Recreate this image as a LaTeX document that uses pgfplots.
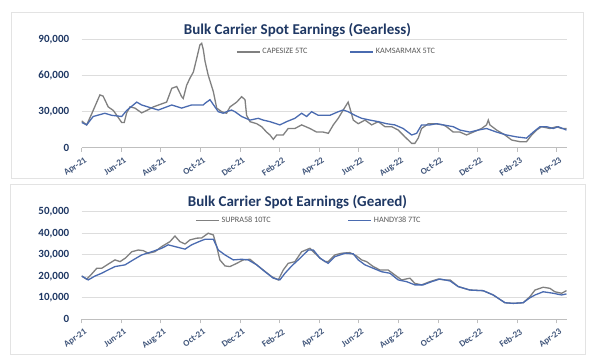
\documentclass[border=0pt]{standalone}
\usepackage{pgfplots}
\pgfplotsset{compat=1.18}
\usepackage{fontspec}
\setmainfont{Carlito}
\definecolor{navy}{HTML}{1F3864}
\definecolor{capec}{HTML}{808080}
\definecolor{kamc}{HTML}{4A6BB0}
\definecolor{gridc}{HTML}{DDDDDD}
\definecolor{axc}{HTML}{BFBFBF}
\definecolor{legt}{HTML}{595959}
\definecolor{boxc}{HTML}{E3E3E3}
\pgfplotsset{
  panel/.style={
    scale only axis, width=485pt, xmin=0, xmax=24.5,
    axis x line*=bottom, axis y line*=left,
    y axis line style={draw=none},
    x axis line style={draw=axc, line width=0.8pt},
    xtick={0,2,...,24},
    xticklabels={Apr-21,Jun-21,Aug-21,Oct-21,Dec-21,Feb-22,Apr-22,Jun-22,Aug-22,Oct-22,Dec-22,Feb-23,Apr-23},
    xtick style={draw=axc, line width=0.8pt},
    ytick style={draw=none},
    tick align=outside, major tick length=4pt,
    ymajorgrids, grid style={gridc, line width=0.8pt},
    xticklabel style={rotate=35, anchor=north east, font=\fontsize{9}{10}\selectfont\bfseries, text=navy!85, inner sep=1pt, yshift=-4pt},
    yticklabel style={font=\fontsize{11}{12}\selectfont\bfseries, text=navy, xshift=-5pt},
    scaled ticks=false,
    /pgf/number format/.cd, 1000 sep={,}, assume math mode=true,
    /pgfplots/.cd,
    legend image code/.code={\draw[##1] (0pt,0pt) -- (23pt,0pt);},
    legend style={draw=none, fill=none, anchor=west, inner sep=0pt,
      font=\fontsize{8.2}{9}\selectfont, text=legt,
      nodes={inner sep=2pt}},
    legend columns=2,
  }
}
\begin{document}
\begin{tikzpicture}
\fill[white] (0,0) rectangle (600pt,362pt);
\draw[boxc, line width=0.8pt] (11pt,184pt) rectangle (583pt,350pt);
\draw[boxc, line width=0.8pt] (10pt,8pt) rectangle (585pt,178pt);
\node[font=\fontsize{15}{17}\selectfont\bfseries, text=navy] at (297.5pt,331.3pt) {Bulk Carrier Spot Earnings (Gearless)};
\node[font=\fontsize{15}{17}\selectfont\bfseries, text=navy] at (297.5pt,159.3pt) {Bulk Carrier Spot Earnings (Geared)};

\begin{axis}[panel, at={(81.7pt,214.3pt)}, anchor=south west, height=108pt,
  ymin=0, ymax=90000, ytick={0,30000,60000,90000},
  legend style={at={(axis description cs:0.318,0.886)}, /tikz/every even column/.append style={column sep=40pt}}]
\addplot[capec, line width=1.3pt] coordinates {(0,22300)(0.25,19000)(0.5,28000)(0.92,44000)(1.08,43000)(1.34,34000)(1.6,31000)(1.77,27000)(2.02,21000)(2.15,21000)(2.27,29000)(2.44,34000)(2.69,33000)(3.03,29000)(3.28,31000)(3.62,34000)(3.95,36000)(4.29,38000)(4.55,49500)(4.8,51000)(5.05,42500)(5.13,41000)(5.3,52000)(5.47,58000)(5.64,63000)(5.81,74500)(5.97,85600)(6.06,87000)(6.14,82000)(6.23,72000)(6.39,60500)(6.65,46700)(6.82,33000)(7.07,30000)(7.32,28700)(7.49,34000)(7.83,38000)(8.08,42500)(8.25,40000)(8.33,27000)(8.5,21700)(8.84,20000)(9.09,17500)(9.34,13000)(9.51,10600)(9.68,7000)(9.85,10600)(10.18,10600)(10.43,16000)(10.77,16000)(11.11,19000)(11.53,16000)(11.87,13000)(12.2,13000)(12.46,12000)(12.71,19000)(12.96,24500)(13.21,31400)(13.46,38000)(13.6,30000)(13.72,23000)(13.97,20000)(14.31,23000)(14.65,19000)(14.98,21700)(15.32,17500)(15.66,17500)(15.99,14700)(16.33,9000)(16.67,3600)(16.83,3600)(17,8000)(17.17,16000)(17.51,20000)(17.85,20000)(18.26,19000)(18.43,17500)(18.77,13000)(19.11,13000)(19.44,10600)(19.78,13000)(20.2,16000)(20.45,19000)(20.54,23000)(20.62,19000)(20.96,14700)(21.38,10600)(21.72,6400)(22.14,5000)(22.47,5000)(22.73,10600)(22.98,14700)(23.23,17500)(23.65,16000)(23.99,17500)(24.24,16000)(24.49,16000)};
\addlegendentry{CAPESIZE 5TC}
\addplot[kamc, line width=1.3pt] coordinates {(0,21000)(0.25,19000)(0.58,26000)(1.17,28700)(1.51,27000)(2.02,26000)(2.27,31000)(2.78,38000)(3.03,35600)(3.54,33000)(3.87,31400)(4.55,35600)(5.05,33000)(5.55,35600)(6.14,35600)(6.23,37000)(6.48,40000)(6.73,34000)(6.9,30000)(7.15,28700)(7.32,30000)(7.57,31400)(7.74,30000)(8.08,26000)(8.5,23000)(8.92,24500)(9.17,23000)(9.51,21700)(10.01,19000)(10.35,21700)(10.77,24500)(11.11,28700)(11.36,26000)(11.61,30000)(11.95,27000)(12.12,27000)(12.54,27000)(12.96,30000)(13.21,31400)(13.46,30000)(13.8,27000)(14.14,24500)(14.56,23000)(14.98,21700)(15.4,20000)(15.82,19000)(16.24,16000)(16.67,10600)(16.92,12000)(17.17,19000)(17.59,19000)(17.93,20000)(18.26,19000)(18.77,17500)(19.11,14700)(19.61,13000)(20.03,14700)(20.45,16000)(20.96,13000)(21.46,10600)(21.97,9000)(22.47,8000)(22.81,13000)(23.15,17500)(23.48,17500)(23.82,16000)(24.07,17500)(24.49,14700)};
\addlegendentry{KAMSARMAX 5TC}
\end{axis}

\begin{axis}[panel, at={(81.7pt,42.7pt)}, anchor=south west, height=107.6pt,
  ymin=0, ymax=50000, ytick={0,10000,20000,30000,40000,50000},
  legend style={at={(axis description cs:0.2337,0.916)}, /tikz/every even column/.append style={column sep=75pt}}]
\addplot[capec, line width=1.3pt] coordinates {(0,20100)(0.25,18600)(0.5,21000)(0.76,23700)(1.01,23700)(1.35,25700)(1.68,27600)(1.94,26800)(2.2,28400)(2.53,31400)(2.86,32200)(3.11,31900)(3.37,30700)(3.7,31400)(4.04,33800)(4.46,36100)(4.71,38700)(4.96,36100)(5.22,35000)(5.47,36900)(5.81,37700)(6.06,37800)(6.39,40000)(6.65,39200)(6.82,33800)(6.98,27600)(7.24,24800)(7.49,24500)(7.83,26000)(8.16,27600)(8.5,27900)(8.84,25300)(9.17,22900)(9.6,19800)(9.93,18300)(10.18,22900)(10.43,26000)(10.77,26800)(11.11,31400)(11.53,33000)(11.78,30700)(12.04,28400)(12.29,26800)(12.45,26800)(12.79,29900)(13.13,30700)(13.55,31000)(13.89,29400)(14.14,27600)(14.39,26800)(14.73,24500)(15.07,22900)(15.48,22900)(15.82,20600)(16.16,18300)(16.58,19100)(16.83,16700)(17.17,16000)(17.59,17500)(18.01,18700)(18.35,18300)(18.61,18300)(19.02,15200)(19.61,13600)(20.28,13300)(20.79,11300)(21.38,7700)(21.8,7400)(22.3,7700)(22.64,10500)(22.9,13600)(23.31,14900)(23.65,14400)(23.9,12800)(24.24,12100)(24.49,13300)};
\addlegendentry{SUPRA58 10TC}
\addplot[kamc, line width=1.3pt] coordinates {(0,20100)(0.33,18300)(0.67,20100)(1.01,21400)(1.26,22600)(1.68,24500)(2.19,25300)(2.6,27600)(3.03,29900)(3.54,31400)(4.04,33000)(4.37,34600)(4.71,33800)(5.22,32600)(5.55,34600)(5.9,36000)(6.23,37200)(6.65,37200)(6.9,32200)(7.24,29900)(7.66,27600)(8.08,27900)(8.41,27600)(8.84,25300)(9.26,22100)(9.68,19100)(10.01,18300)(10.27,21400)(10.61,24800)(11.03,28400)(11.45,32200)(11.7,32200)(12.04,28400)(12.45,26000)(12.79,29100)(13.3,30700)(13.72,30400)(13.97,27600)(14.31,25300)(14.73,23700)(15.15,22100)(15.57,21400)(15.99,18300)(16.41,17500)(16.83,16000)(17.25,16000)(17.68,17500)(18.09,18700)(18.35,18300)(18.61,17800)(19.02,15200)(19.61,13600)(20.28,13300)(20.79,11300)(21.38,7700)(21.8,7400)(22.3,7700)(22.64,10000)(22.9,11300)(23.31,12800)(23.82,12100)(24.24,11300)(24.49,11800)};
\addlegendentry{HANDY38 7TC}
\end{axis}
\end{tikzpicture}
\end{document}
